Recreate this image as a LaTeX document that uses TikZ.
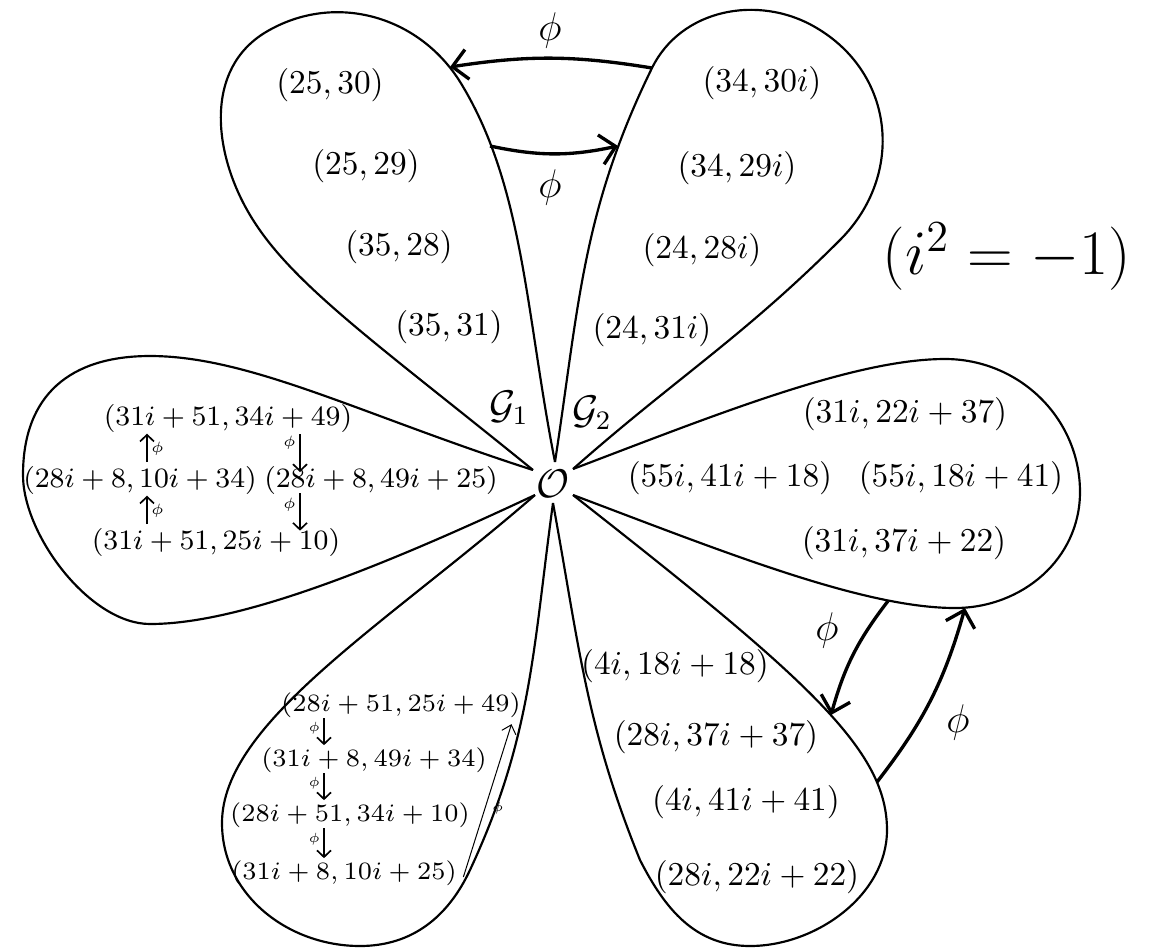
\RequirePackage{fix-cm}
\documentclass[tikz,border=0pt]{standalone}
\usetikzlibrary{arrows.meta,calc}
\begin{document}
\begin{tikzpicture}[x=0.3pt,y=-0.3pt,
  petal/.style={line width=0.65pt,line join=round},
  bigarrow/.style={line width=1pt,-{Straight Barb[length=4.5pt,width=9pt,line width=1pt]}},
  smallarrow/.style={line width=0.5pt,-{Straight Barb[length=2pt,width=4.2pt,line width=0.5pt]}},
  thinarrow/.style={line width=0.3pt,-{Straight Barb[length=2.4pt,width=4.4pt,line width=0.3pt]}},
  lbl/.style={inner sep=0pt,font=\fontsize{10}{12}\selectfont},
  lblS/.style={inner sep=0pt,font=\fontsize{8.4}{10}\selectfont},
  lblT/.style={inner sep=0pt,font=\fontsize{7.5}{9}\selectfont},
  phiS/.style={inner sep=0pt,font=\fontsize{4.5}{5}\selectfont},
  phiT/.style={inner sep=0pt,font=\fontsize{4}{5}\selectfont},
  phiB/.style={inner sep=0pt,font=\fontsize{12}{14}\selectfont},
  glbl/.style={inner sep=0pt,font=\fontsize{12}{14}\selectfont},
]
\useasboundingbox (0,0) rectangle (1157,951);

% junction points round the centre
\coordinate (J12) at (555,462);
\coordinate (J23) at (573,469);
\coordinate (J34) at (573,495);
\coordinate (J45) at (553,503);
\coordinate (J56) at (535,495);
\coordinate (J61) at (533,470);

% ---------- petals ----------
% P1 top-left
\draw[petal] (J61) .. controls (378,344) and (291,284) .. (250,215)
  .. controls (213,153) and (204,69) .. (266,32)
  .. controls (335,-9) and (421,16) .. (462,85)
  .. controls (524,188) and (526,315) .. (J12);
% P2 top-right
\draw[petal] (J12) .. controls (579,305) and (582,211) .. (652,68)
  .. controls (681,9) and (758,-6) .. (815,27)
  .. controls (895,73) and (905,175) .. (840,240)
  .. controls (742,338) and (676,378) .. (J23);
% P3 right
\draw[petal] (J23) .. controls (715,415) and (854,359) .. (945,359)
  .. controls (1019,359) and (1080,418) .. (1080,492)
  .. controls (1080,559) and (1022,608) .. (955,608)
  .. controls (862,608) and (719,550) .. (J34);
% P4 bottom-right
\draw[petal] (J34) .. controls (809,680) and (887,750) .. (887,830)
  .. controls (887,895) and (816,946) .. (750,946)
  .. controls (695,946) and (665,909) .. (640,860)
  .. controls (586,727) and (579,645) .. (J45);
% P5 bottom-left
\draw[petal] (J45) .. controls (533,649) and (532,737) .. (470,870)
  .. controls (448,917) and (412,946) .. (360,946)
  .. controls (288,946) and (222,895) .. (222,823)
  .. controls (222,723) and (384,626) .. (J56);
% P6 left
\draw[petal] (J56) .. controls (354,580) and (230,624) .. (150,624)
  .. controls (90,624) and (23,535) .. (23,475)
  .. controls (23,395) and (70,356) .. (150,356)
  .. controls (250,356) and (362,415) .. (J61);

% ---------- centre and petal names ----------
\node[glbl] (O) at (553,484) {$\mathcal{O}$};
\node[glbl] (G1) at (509,408) {$\mathcal{G}_1$};
\node[glbl] (G2) at (592,413) {$\mathcal{G}_2$};

% ---------- labels ----------
\node[lbl] (p11) at (330,85) {$(25,30)$};
\node[lbl] (p12) at (366,166) {$(25,29)$};
\node[lbl] (p13) at (399,247) {$(35,28)$};
\node[lbl] (p14) at (449,327) {$(35,31)$};
\node[lbl] (p21) at (762,83) {$(34,30i)$};
\node[lbl] (p22) at (737,168) {$(34,29i)$};
\node[lbl] (p23) at (702,250) {$(24,28i)$};
\node[lbl] (p24) at (652,330) {$(24,31i)$};
\node[lbl] (p31) at (905,414) {$(31i,22i+37)$};
\node[lbl] (p32) at (730,478) {$(55i,41i+18)$};
\node[lbl] (p33) at (961,478) {$(55i,18i+41)$};
\node[lbl] (p34) at (904,543) {$(31i,37i+22)$};
\node[lbl] (p41) at (675,666) {$(4i,18i+18)$};
\node[lbl] (p42) at (716,737) {$(28i,37i+37)$};
\node[lbl] (p43) at (746,802) {$(4i,41i+41)$};
\node[lbl] (p44) at (757,877) {$(28i,22i+22)$};

% left petal
\node[lblS] (q1) at (228,418) {$(31i+51,34i+49)$};
\node[lblS] (q2) at (140,480) {$(28i+8,10i+34)$};
\node[lblS] (q3) at (381,480) {$(28i+8,49i+25)$};
\node[lblS] (q4) at (216,542) {$(31i+51,25i+10)$};
\draw[smallarrow,shorten <=1pt,shorten >=0.3pt] (q4.north -| 147,0) -- node[phiS,right=1pt] {$\phi$} (q2.south -| 147,0);
\draw[smallarrow,shorten <=1pt,shorten >=0.3pt] (q2.north -| 147,0) -- node[phiS,right=1pt] {$\phi$} (q1.south -| 147,0);
\draw[smallarrow,shorten <=0.5pt,shorten >=-2pt] (q1.south -| 300,0) -- node[phiS,left=1pt,pos=0.3] {$\phi$} (q3.north -| 300,0);
\draw[smallarrow,shorten <=-0.5pt,shorten >=-1pt] (q3.south -| 300,0) -- node[phiS,left=1pt,pos=0.3] {$\phi$} (q4.north -| 300,0);

% bottom-left petal
\node[lblT] (r1) at (401,705) {$(28i+51,25i+49)$};
\node[lblT] (r2) at (374,760) {$(31i+8,49i+34)$};
\node[lblT] (r3) at (350,815) {$(28i+51,34i+10)$};
\node[lblT] (r4) at (344,873) {$(31i+8,10i+25)$};
\draw[smallarrow,shorten <=0pt,shorten >=0.5pt] (r1.south -| 324,0) -- node[phiT,left=1pt,pos=0.35] {$\phi$} (r2.north -| 324,0);
\draw[smallarrow,shorten <=0pt,shorten >=0.5pt] (r2.south -| 324,0) -- node[phiT,left=1pt,pos=0.35] {$\phi$} (r3.north -| 324,0);
\draw[smallarrow,shorten <=0pt,shorten >=0.5pt] (r3.south -| 324,0) -- node[phiT,left=1pt,pos=0.35] {$\phi$} (r4.north -| 324,0);
\draw[thinarrow] ($(r4.east)+(6,4)$) -- node[phiT,right=2pt,pos=0.45] {$\phi$} ($(r1.south east)+(-10,6)$);

% ---------- big arrows between petals ----------
\coordinate (a1s) at (652,68);
\coordinate (a1e) at (450,67);
\coordinate (a2s) at (490,146);
\coordinate (a2e) at (618,146);
\coordinate (a3s) at (888,601);
\coordinate (a3e) at (831,715);
\coordinate (a4s) at (877,782);
\coordinate (a4e) at (965,608);
\draw[bigarrow] (a1s) to[bend right=9] (a1e);
\draw[bigarrow] (a2s) to[bend right=12] (a2e);
\draw[bigarrow] (a3s) to[bend right=11] (a3e);
\draw[bigarrow] (a4s) to[bend right=11] (a4e);
\node[phiB] (f1) at (550,30) {$\phi$};
\node[phiB] (f2) at (550,187) {$\phi$};
\node[phiB] (f3) at (827,630) {$\phi$};
\node[phiB] (f4) at (958,722) {$\phi$};

% ---------- note ----------
\node[inner sep=0pt,font=\fontsize{19}{22}\selectfont] (note) at (1007,257) {$(i^2=-1)$};
\end{tikzpicture}
\end{document}
